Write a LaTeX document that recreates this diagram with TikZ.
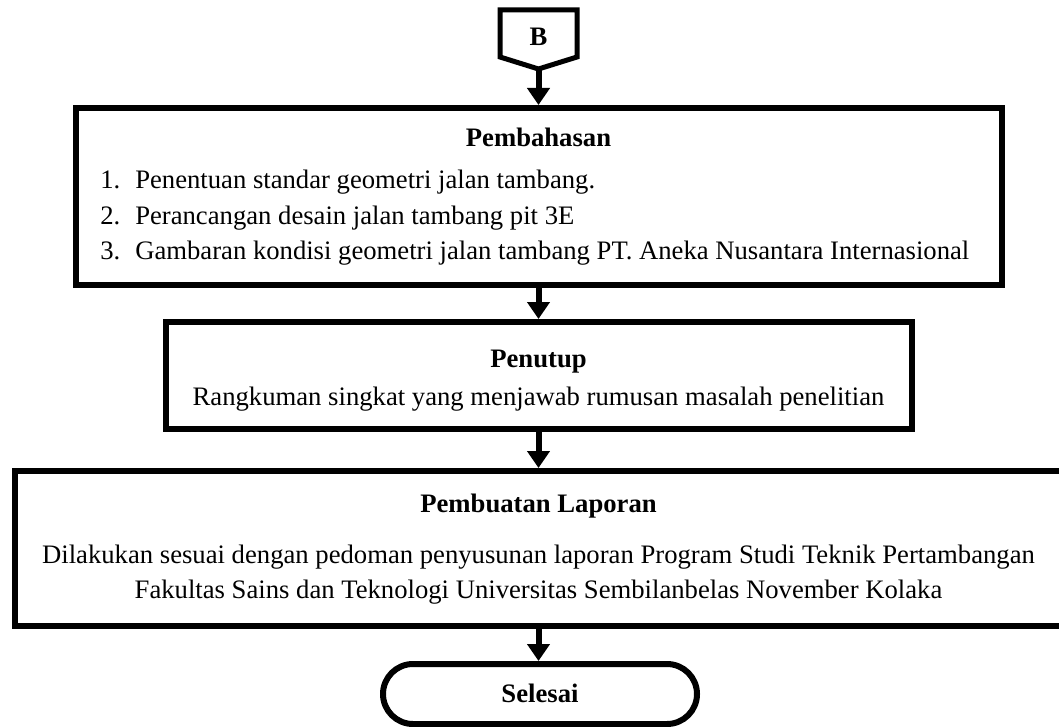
\documentclass[tikz,border=0pt]{standalone}
\usepackage{fontspec}
\setmainfont{Liberation Serif}
\usetikzlibrary{arrows.meta,shapes.misc}
\begin{document}
\begin{tikzpicture}[x=0.75pt,y=-0.75pt,
  boxstyle/.style={draw,line width=4.5pt,rectangle,inner sep=0pt},
  link/.style={line width=4.5pt,-{Triangle[length=12.75pt,width=16.5pt]}},
  txt/.style={inner sep=0pt,anchor=base,font=\fontsize{20}{26}\selectfont},
  ttl/.style={txt,font=\fontsize{20}{26}\selectfont\bfseries},
  lft/.style={txt,anchor=base west}
]
\useasboundingbox (0,0) rectangle (1059,727);
\clip (0,0) rectangle (1059,727);
% off-page connector B
\draw[line width=3.75pt,line join=miter] (500,10) -- (577,10) -- (577,57) -- (538.5,69) -- (500,57) -- cycle;
\coordinate (Btip) at (538.5,67);
\node[ttl] (B) at (538.5,46) {B};
% boxes
\node[boxstyle,minimum width=694.5pt,minimum height=132.75pt] (bahas) at (538.5,196.5) {};
\node[boxstyle,minimum width=559.5pt,minimum height=80.25pt] (tutup) at (538.5,375.5) {};
\node[boxstyle,minimum width=786pt,minimum height=116.25pt] (lapor) at (538.5,548.5) {};
\node[draw,line width=4.5pt,rounded rectangle,inner sep=0pt,minimum width=235.5pt,minimum height=45pt] (selesai) at (540,694) {};
% texts
\node[ttl] (t1) at (538.5,147) {Pembahasan};
\node[lft] (n1) at (100,189) {1.};
\node[lft] (i1) at (135,189) {Penentuan standar geometri jalan tambang.};
\node[lft] (n2) at (100,224) {2.};
\node[lft] (i2) at (135,224) {Perancangan desain jalan tambang pit 3E};
\node[lft] (n3) at (100,259) {3.};
\node[lft] (i3) at (135,259) {Gambaran kondisi geometri jalan tambang PT. Aneka Nusantara Internasional};
\node[ttl] (t2) at (538.5,367) {Penutup};
\node[txt] (r2) at (538.5,405) {Rangkuman singkat yang menjawab rumusan masalah penelitian};
\node[ttl] (t3) at (538.5,512) {Pembuatan Laporan};
\node[txt] (r3a) at (538.5,563) {Dilakukan sesuai dengan pedoman penyusunan laporan Program Studi Teknik Pertambangan};
\node[txt] (r3b) at (538.5,598) {Fakultas Sains dan Teknologi Universitas Sembilanbelas November Kolaka};
\node[ttl] (t4) at (540,702) {Selesai};
% connectors
\draw[link] (Btip) -- (bahas.north);
\draw[link] (bahas.south) -- (tutup.north);
\draw[link] (tutup.south) -- (lapor.north);
\draw[link] (lapor.south) -- (lapor.south |- selesai.north);
\end{tikzpicture}
\end{document}
